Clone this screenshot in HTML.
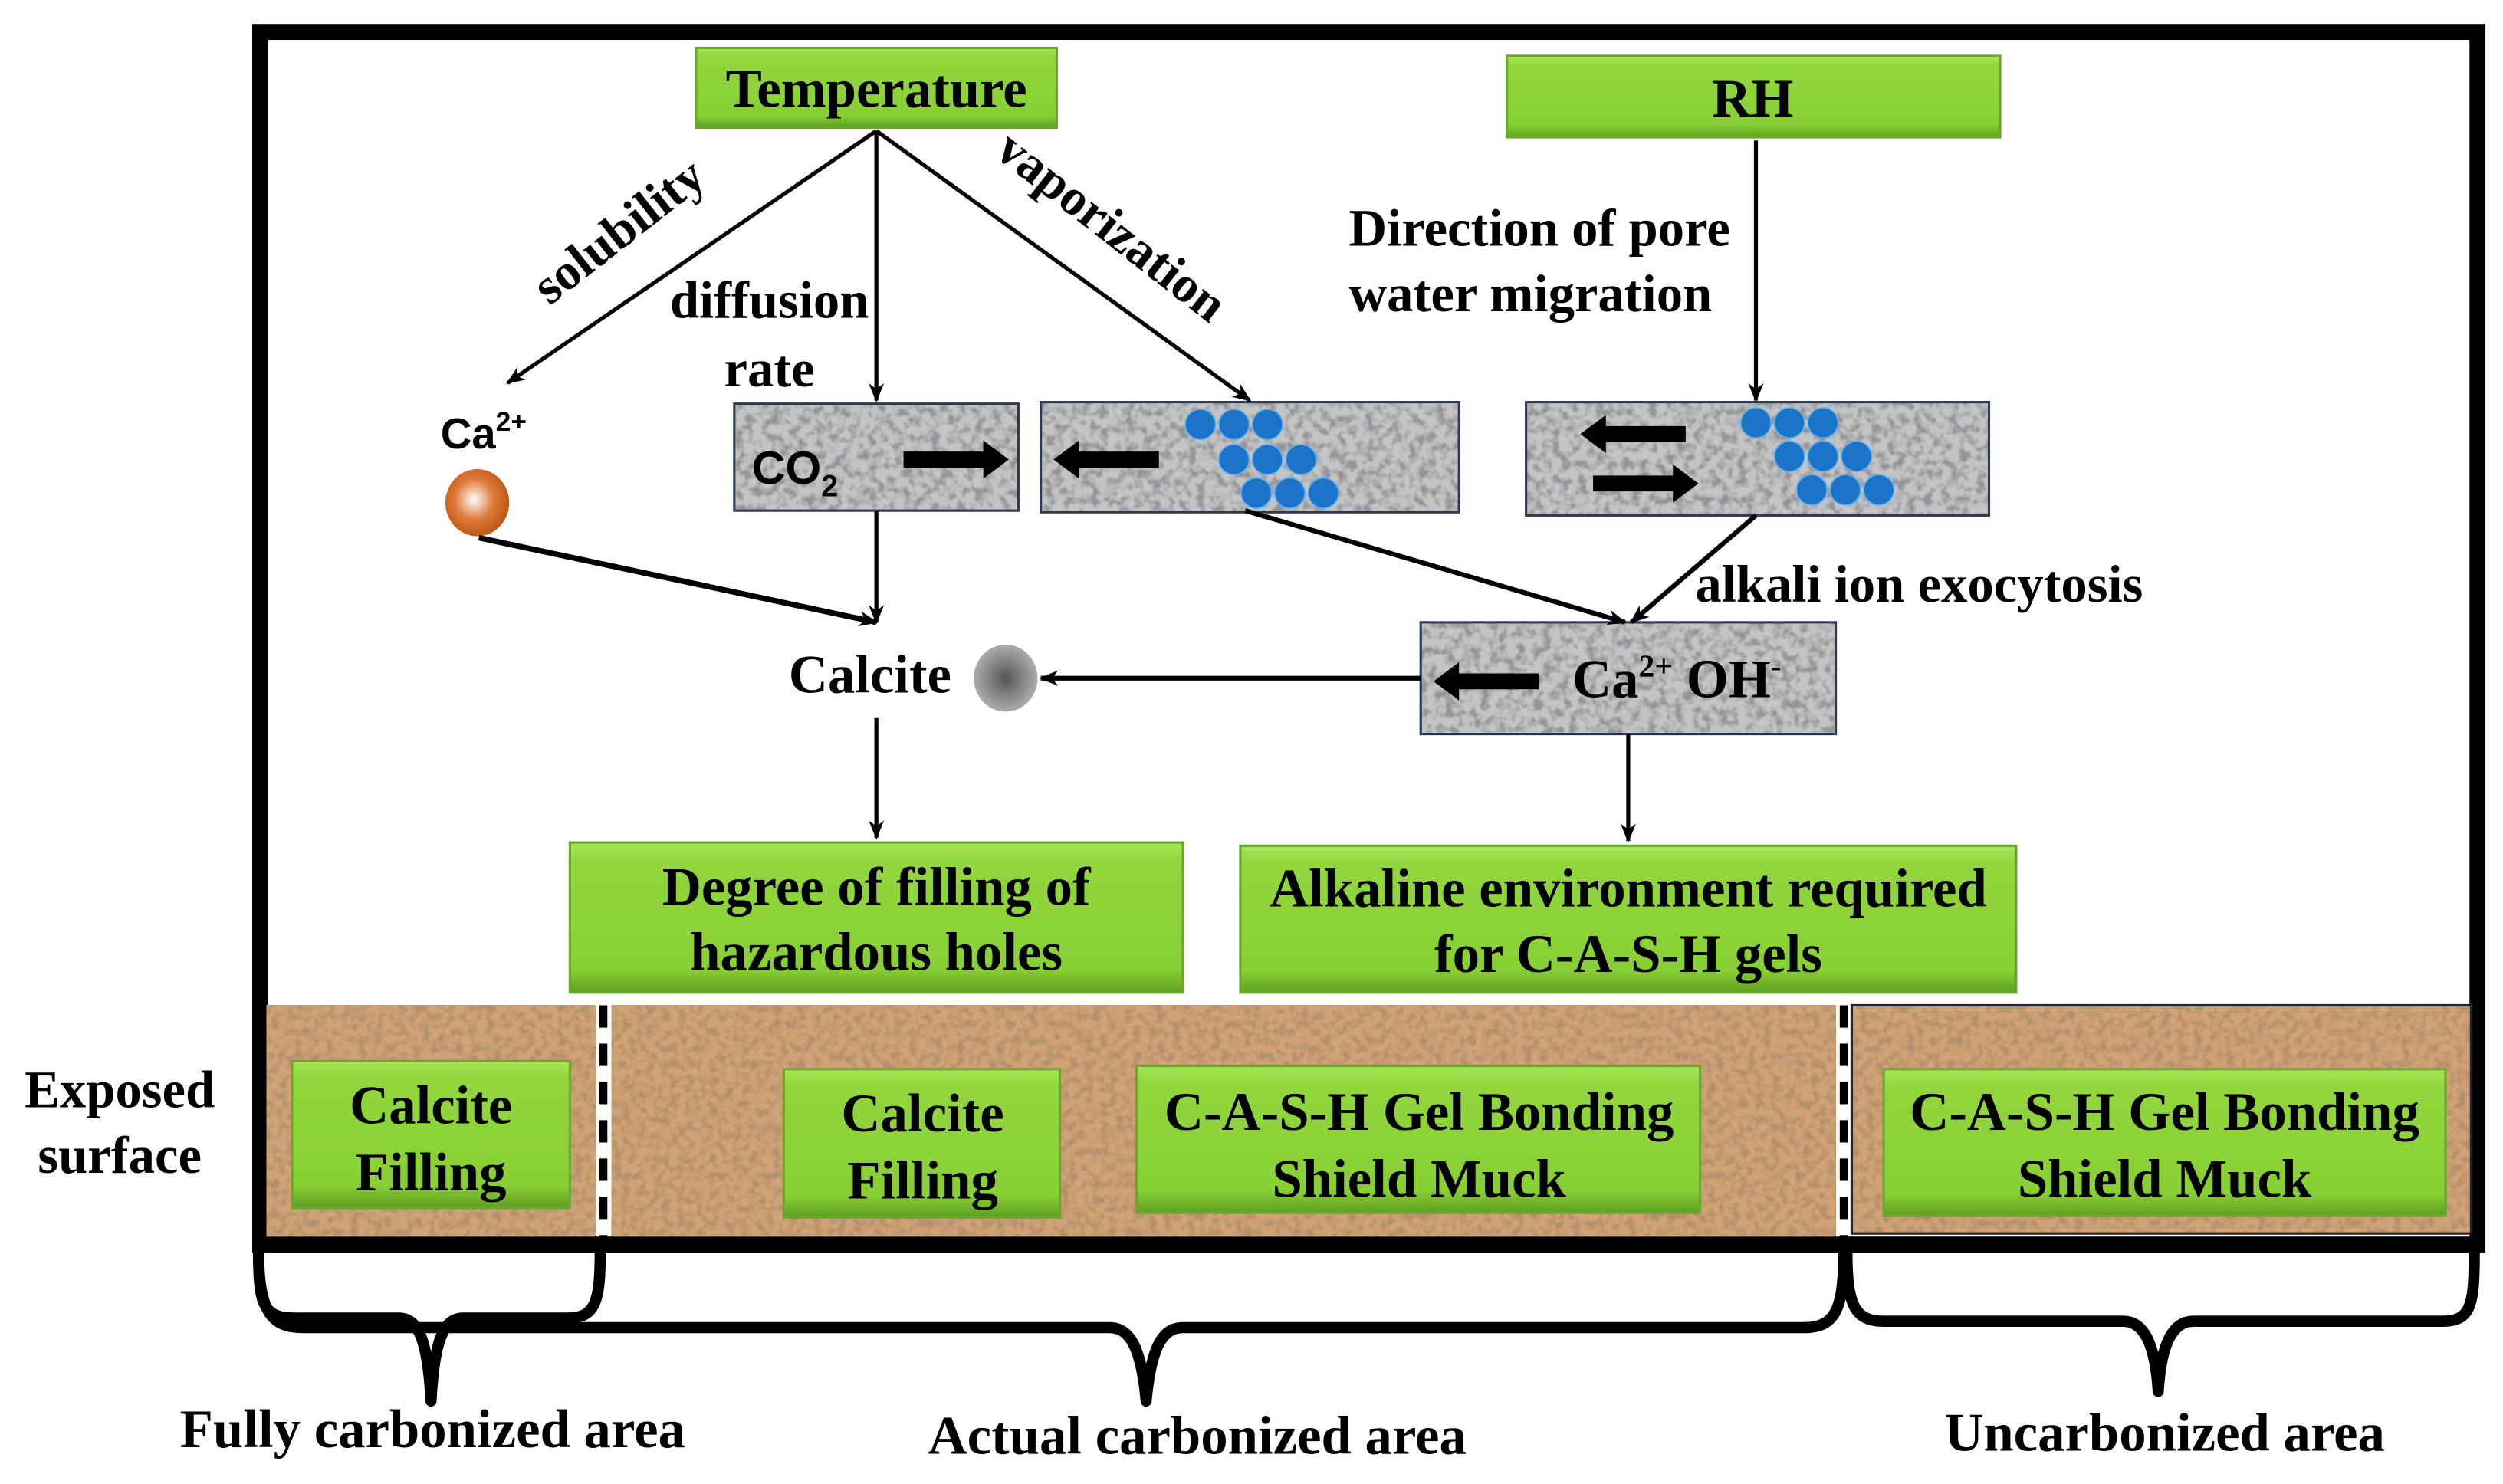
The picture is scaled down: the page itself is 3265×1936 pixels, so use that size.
<!DOCTYPE html>
<html><head><meta charset="utf-8"><style>
html,body{margin:0;padding:0;background:#fff}
svg{display:block}
text{font-family:"Liberation Serif",serif;font-weight:bold;fill:#000}
.s{font-family:"Liberation Sans",sans-serif}
</style></head><body>
<svg width="3265" height="1936" viewBox="0 0 1568 930" preserveAspectRatio="none" xmlns="http://www.w3.org/2000/svg">
<defs>
<filter id="gn" x="0" y="0" width="100%" height="100%" filterUnits="objectBoundingBox">
<feTurbulence type="fractalNoise" baseFrequency="0.18" numOctaves="2" seed="3" result="t"/>
<feColorMatrix in="t" type="matrix" values="0 0 0 0 0.3  0 0 0 0 0.3  0 0 0 0 0.32  0 0 0 -3.2 1.9" result="n"/>
<feFlood flood-color="#c4c4c6" result="b"/>
<feMerge><feMergeNode in="b"/><feMergeNode in="n"/></feMerge>
</filter>
<filter id="bn" x="0" y="0" width="100%" height="100%" filterUnits="objectBoundingBox">
<feTurbulence type="fractalNoise" baseFrequency="0.2" numOctaves="2" seed="7" result="t"/>
<feColorMatrix in="t" type="matrix" values="0 0 0 0 0.45  0 0 0 0 0.28  0 0 0 0 0.15  0 0 0 -3 1.8" result="n"/>
<feFlood flood-color="#d0a275" result="b"/>
<feMerge><feMergeNode in="b"/><feMergeNode in="n"/></feMerge>
</filter>
<linearGradient id="grn" x1="0" y1="0" x2="0" y2="1">
<stop offset="0" stop-color="#a8e455"/><stop offset="0.12" stop-color="#92d63e"/><stop offset="0.85" stop-color="#88cf35"/><stop offset="1" stop-color="#5f9e22"/>
</linearGradient>
<radialGradient id="org" cx="0.45" cy="0.45" r="0.6"><stop offset="0" stop-color="#fff"/><stop offset="0.5" stop-color="#e07a3a"/><stop offset="1" stop-color="#b8520f"/></radialGradient>
<radialGradient id="gry" cx="0.5" cy="0.5" r="0.55"><stop offset="0" stop-color="#555"/><stop offset="1" stop-color="#b5b5b5"/></radialGradient>
<marker id="ah" viewBox="0 0 10 10" refX="9" refY="5" markerWidth="12" markerHeight="12" markerUnits="userSpaceOnUse" orient="auto"><path d="M0,1 L10,5 L0,9 L3,5z" fill="#000"/></marker>
<g id="bigL"><path d="M0,0 L16,-12 L16,-5 L66,-5 L66,5 L16,5 L16,12z" fill="#000"/></g>
</defs>

<rect x="163" y="20" width="1389" height="760" fill="none" stroke="#000" stroke-width="10"/>

<rect x="167" y="630" width="206" height="147" filter="url(#bn)"/>
<rect x="383" y="630" width="767" height="147" filter="url(#bn)"/>
<rect x="1160" y="630" width="388" height="143" filter="url(#bn)"/>
<rect x="1160" y="630" width="388" height="143" fill="none" stroke="#223" stroke-width="1.5"/>
<line x1="378" y1="630" x2="378" y2="777" stroke="#000" stroke-width="5" stroke-dasharray="14,10"/>
<line x1="1155" y1="630" x2="1155" y2="777" stroke="#000" stroke-width="5" stroke-dasharray="14,10"/>
<rect x="163" y="775" width="1389" height="10" fill="#000"/>

<g stroke="#6aa82c" stroke-width="1.5" fill="url(#grn)">
<rect x="436" y="30" width="226" height="50"/>
<rect x="944" y="35" width="309" height="51"/>
<rect x="357" y="528" width="384" height="94"/>
<rect x="777" y="530" width="486" height="92"/>
<rect x="183" y="665" width="174" height="92"/>
<rect x="491" y="670" width="173" height="93"/>
<rect x="712" y="668" width="353" height="92"/>
<rect x="1180" y="670" width="352" height="92"/>
</g>
<text x="549" y="67" font-size="34" text-anchor="middle">Temperature</text>
<text x="1098" y="73" font-size="34" text-anchor="middle">RH</text>
<text x="549" y="567" font-size="34" text-anchor="middle">Degree of filling of</text>
<text x="549" y="608" font-size="34" text-anchor="middle">hazardous holes</text>
<text x="1020" y="568" font-size="34" text-anchor="middle">Alkaline environment required</text>
<text x="1020" y="609" font-size="34" text-anchor="middle">for C-A-S-H gels</text>
<text x="270" y="704" font-size="34" text-anchor="middle">Calcite</text>
<text x="270" y="746" font-size="34" text-anchor="middle">Filling</text>
<text x="578" y="709" font-size="34" text-anchor="middle">Calcite</text>
<text x="578" y="751" font-size="34" text-anchor="middle">Filling</text>
<text x="889" y="708" font-size="34" text-anchor="middle">C-A-S-H Gel Bonding</text>
<text x="889" y="750" font-size="34" text-anchor="middle">Shield Muck</text>
<text x="1356" y="708" font-size="34" text-anchor="middle">C-A-S-H Gel Bonding</text>
<text x="1356" y="750" font-size="34" text-anchor="middle">Shield Muck</text>
<text x="75" y="694" font-size="33" text-anchor="middle">Exposed</text>
<text x="75" y="735" font-size="33" text-anchor="middle">surface</text>

<rect x="460" y="253" width="178" height="67" filter="url(#gn)"/>
<rect x="652" y="252" width="262" height="69" filter="url(#gn)"/>
<rect x="956" y="252" width="290" height="71" filter="url(#gn)"/>
<rect x="890" y="390" width="260" height="70" filter="url(#gn)"/>
<g fill="none" stroke="#2d3a55" stroke-width="1.5">
<rect x="460" y="253" width="178" height="67"/>
<rect x="652" y="252" width="262" height="69"/>
<rect x="956" y="252" width="290" height="71"/>
<rect x="890" y="390" width="260" height="70"/>
</g>
<text x="471" y="303" font-size="29" class="s">CO<tspan font-size="19" dy="8">2</tspan></text>
<use href="#bigL" transform="translate(632,288) scale(-1,1)"/>
<use href="#bigL" transform="translate(660,288)"/>
<use href="#bigL" transform="translate(990,272)"/>
<use href="#bigL" transform="translate(1064,303) scale(-1,1)"/>
<use href="#bigL" transform="translate(898,427)"/>
<text x="985" y="437" font-size="34">Ca<tspan font-size="20" dy="-13">2+</tspan><tspan dy="13"> OH</tspan><tspan font-size="20" dy="-13">-</tspan></text>
<g fill="#1b74c8" stroke="#5fb0ef" stroke-width="0.8">
<circle cx="752" cy="266" r="9.5"/><circle cx="773" cy="266" r="9.5"/><circle cx="794" cy="266" r="9.5"/>
<circle cx="773" cy="288" r="9.5"/><circle cx="794" cy="288" r="9.5"/><circle cx="815" cy="288" r="9.5"/>
<circle cx="787" cy="309" r="9.5"/><circle cx="808" cy="309" r="9.5"/><circle cx="829" cy="309" r="9.5"/>
<circle cx="1100" cy="265" r="9.5"/><circle cx="1121" cy="265" r="9.5"/><circle cx="1142" cy="265" r="9.5"/>
<circle cx="1121" cy="286" r="9.5"/><circle cx="1142" cy="286" r="9.5"/><circle cx="1163" cy="286" r="9.5"/>
<circle cx="1135" cy="307" r="9.5"/><circle cx="1156" cy="307" r="9.5"/><circle cx="1177" cy="307" r="9.5"/>
</g>

<text x="303" y="281" font-size="27" class="s" text-anchor="middle">Ca<tspan font-size="17" dy="-11">2+</tspan></text>
<ellipse cx="299" cy="315" rx="20" ry="21" fill="url(#org)"/>
<ellipse cx="630" cy="425" rx="20" ry="21" fill="url(#gry)"/>
<text x="545" y="434" font-size="34" text-anchor="middle">Calcite</text>

<g stroke="#000" stroke-width="2.5" fill="none" marker-end="url(#ah)">
<line x1="549" y1="82" x2="318" y2="240"/>
<line x1="549" y1="82" x2="549" y2="251"/>
<line x1="549" y1="82" x2="783" y2="251"/>
<line x1="1100" y1="88" x2="1100" y2="251"/>
<line x1="300" y1="337" x2="549" y2="390" stroke-width="3.5"/>
<line x1="549" y1="320" x2="549" y2="390"/>
<line x1="780" y1="320" x2="1018" y2="390" stroke-width="3"/>
<line x1="1100" y1="323" x2="1022" y2="390" stroke-width="3"/>
<line x1="890" y1="425" x2="652" y2="425" stroke-width="3"/>
<line x1="549" y1="450" x2="549" y2="525"/>
<line x1="1020" y1="460" x2="1020" y2="527"/>
</g>
<text font-size="32" transform="translate(394,153) rotate(-38)" text-anchor="middle">solubility</text>
<text x="482" y="199" font-size="33" text-anchor="middle">diffusion</text>
<text x="482" y="242" font-size="33" text-anchor="middle">rate</text>
<text font-size="32" transform="translate(690,150) rotate(38)" text-anchor="middle">vaporization</text>
<text x="845" y="154" font-size="33">Direction of pore</text>
<text x="845" y="195" font-size="33">water migration</text>
<text x="1062" y="377" font-size="33">alkali ion exocytosis</text>

<g stroke="#000" stroke-width="7" fill="none" stroke-linejoin="round">
<path d="M162,785 C162,818 165,826 185,826 L250,826 C262,826 268,840 270,878 C272,840 278,826 290,826 L355,826 C372,826 376,818 376,785"/>
<path d="M162,785 C162,822 170,832 190,832 L695,832 C708,832 715,845 718,878 C721,845 728,832 741,832 L1130,832 C1150,832 1155,820 1155,785"/>
<path d="M1157,785 C1157,818 1162,828 1180,828 L1330,828 C1342,828 1350,840 1352,872 C1354,840 1362,828 1374,828 L1530,828 C1548,828 1550,818 1550,785"/>
</g>
<text x="271" y="907" font-size="34" text-anchor="middle">Fully carbonized area</text>
<text x="750" y="911" font-size="34" text-anchor="middle">Actual carbonized area</text>
<text x="1356" y="909" font-size="34" text-anchor="middle">Uncarbonized area</text>
</svg>
</body></html>
